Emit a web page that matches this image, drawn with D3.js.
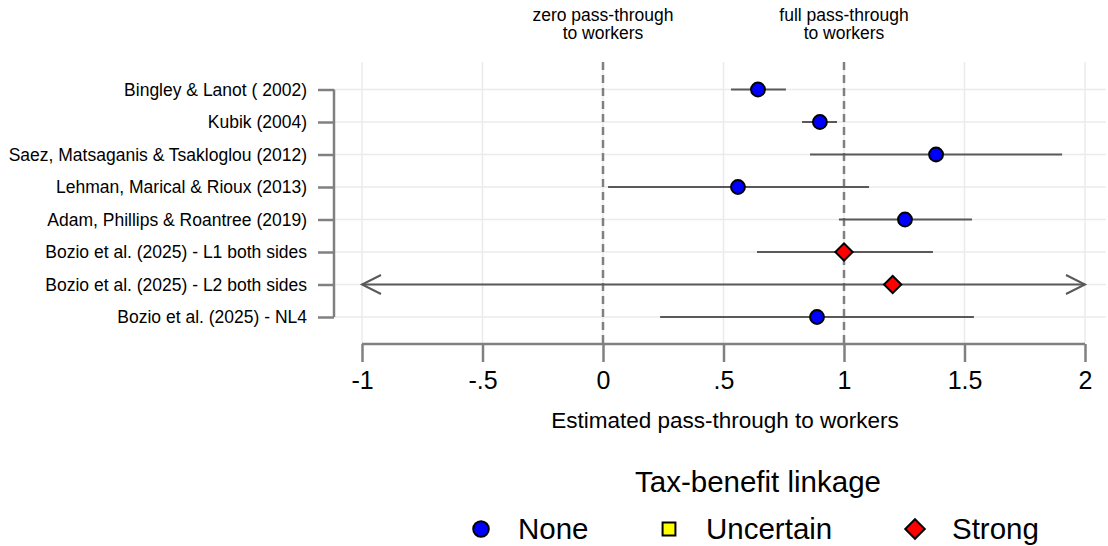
<!DOCTYPE html>
<html>
<head>
<meta charset="utf-8">
<script src="https://cdn.jsdelivr.net/npm/d3@7"></script>
<style>
  body { margin: 0; background: #fff; }
  text { font-family: Arial, "Liberation Sans", sans-serif; fill: #000; }
</style>
</head>
<body>
<script>
//chart data
var studies = [
    "Bingley & Lanot ( 2002)",
    "Kubik (2004)",
    "Saez, Matsaganis & Tsakloglou (2012)",
    "Lehman, Marical & Rioux (2013)",
    "Adam, Phillips & Roantree (2019)",
    "Bozio et al. (2025) - L1 both sides",
    "Bozio et al. (2025) - L2 both sides",
    "Bozio et al. (2025) - NL4"
];
var estimates = [0.643, 0.900, 1.382, 0.560, 1.253, 1.000, 1.202, 0.888];
var lower = [0.531, 0.826, 0.859, 0.021, 0.979, 0.639, -1, 0.237];
var upper = [0.759, 0.971, 1.905, 1.104, 1.531, 1.369, 2, 1.539];
var linkage = ["None", "None", "None", "None", "None", "Strong", "Strong", "None"];
var censored = [false, false, false, false, false, false, true, false];
var xTicks = [-1, -0.5, 0, 0.5, 1, 1.5, 2];
var refLines = [0, 1];
var refLabels = [["zero pass-through", "to workers"], ["full pass-through", "to workers"]];
var legendCats = ["None", "Uncertain", "Strong"];

window.onload = function () {
    var w = 1108, h = 546;

    var svg = d3.select("body").append("svg")
        .attr("width", w)
        .attr("height", h);

    var x = d3.scaleLinear().domain([-1, 2]).range([362, 1085]);
    var y = d3.scalePoint().domain(studies).range([89.5, 317]);

    var rows = studies.map(function (s, i) {
        return { study: s, est: estimates[i], lo: lower[i], hi: upper[i], link: linkage[i], cens: censored[i] };
    });

    var gridTop = 62, axisY = 344, yAxisX = 334;

    //grid lines
    svg.selectAll(".vgrid").data(xTicks).enter().append("line")
        .attr("x1", function (d) { return x(d); })
        .attr("x2", function (d) { return x(d); })
        .attr("y1", gridTop).attr("y2", axisY)
        .style("stroke", "#ebebeb").style("stroke-width", 1.5);

    svg.selectAll(".hgrid").data(studies).enter().append("line")
        .attr("x1", yAxisX).attr("x2", 1106)
        .attr("y1", function (d) { return y(d); })
        .attr("y2", function (d) { return y(d); })
        .style("stroke", "#ebebeb").style("stroke-width", 1.5);

    //reference lines
    svg.selectAll(".ref").data(refLines).enter().append("line")
        .attr("x1", function (d) { return x(d); })
        .attr("x2", function (d) { return x(d); })
        .attr("y1", gridTop).attr("y2", axisY)
        .style("stroke", "#808080").style("stroke-width", 2.5)
        .style("stroke-dasharray", "8,5");

    //reference labels, two lines each
    refLines.forEach(function (d, i) {
        refLabels[i].forEach(function (line, j) {
            svg.append("text")
                .attr("text-anchor", "middle")
                .attr("x", x(d))
                .attr("y", 21 + j * 18)
                .style("font-size", "17.5px")
                .text(line);
        });
    });

    //confidence intervals
    svg.selectAll(".ci").data(rows).enter().append("line")
        .attr("x1", function (d) { return x(d.lo); })
        .attr("x2", function (d) { return x(d.hi); })
        .attr("y1", function (d) { return y(d.study); })
        .attr("y2", function (d) { return y(d.study); })
        .style("stroke", "#595959").style("stroke-width", 2);

    //arrow heads for censored intervals
    rows.filter(function (d) { return d.cens; }).forEach(function (d) {
        var yy = y(d.study);
        [[x(d.lo), 1], [x(d.hi), -1]].forEach(function (p) {
            svg.append("path")
                .attr("d", "M" + (p[0] + p[1] * 19) + "," + (yy - 9.5) + "L" + p[0] + "," + yy +
                    "L" + (p[0] + p[1] * 19) + "," + (yy + 9.5))
                .style("fill", "none").style("stroke", "#595959").style("stroke-width", 2);
        });
    });

    //markers
    var fill = { None: "#0000ff", Uncertain: "#ffff00", Strong: "#ff0000" };
    var rot = { None: 0, Uncertain: 0, Strong: 45 };
    var shape = { None: d3.symbolCircle, Uncertain: d3.symbolSquare, Strong: d3.symbolSquare };
    var ptSize = { None: 150, Uncertain: 140, Strong: 150 };
    var legSize = { None: 190, Uncertain: 165, Strong: 190 };

    svg.selectAll(".pt").data(rows).enter().append("path")
        .attr("d", function (d) { return d3.symbol().type(shape[d.link]).size(ptSize[d.link])(); })
        .attr("transform", function (d) {
            return "translate(" + x(d.est) + "," + y(d.study) + ") rotate(" + rot[d.link] + ")";
        })
        .style("fill", function (d) { return fill[d.link]; })
        .style("stroke", "#000").style("stroke-width", 2);

    //y axis
    var yAxis = d3.axisLeft(y).tickSize(16).tickPadding(11);
    var gy = svg.append("g")
        .attr("transform", "translate(" + yAxisX + ",0)")
        .call(yAxis);
    gy.select(".domain").attr("d", "M0," + y(studies[0]) + "V" + y(studies[studies.length - 1]));
    gy.selectAll(".domain, .tick line").style("stroke", "#808080").style("stroke-width", 2.5);
    gy.selectAll(".tick text").style("font-size", "17.5px").style("fill", "#000")
        .style("font-family", "Arial, 'Liberation Sans', sans-serif");

    //x axis
    var xAxis = d3.axisBottom(x).tickValues(xTicks).tickSize(18).tickPadding(9)
        .tickFormat(function (d) {
            return String(d).replace("0.", ".");
        });
    var gx = svg.append("g")
        .attr("transform", "translate(0," + axisY + ")")
        .call(xAxis);
    gx.select(".domain").attr("d", "M" + x(-1) + ",0H" + x(2));
    gx.selectAll(".domain, .tick line").style("stroke", "#808080").style("stroke-width", 2.5);
    gx.selectAll(".tick text").style("font-size", "25px").style("fill", "#000")
        .style("font-family", "Arial, 'Liberation Sans', sans-serif");

    //x axis title
    svg.append("text")
        .attr("text-anchor", "middle")
        .attr("x", 725)
        .attr("y", 428)
        .style("font-size", "22.5px")
        .text("Estimated pass-through to workers");

    //legend
    svg.append("text")
        .attr("text-anchor", "middle")
        .attr("x", 758)
        .attr("y", 492)
        .style("font-size", "29.5px")
        .text("Tax-benefit linkage");

    var legX = [481, 669, 915];
    var leg = svg.selectAll(".leg").data(legendCats).enter().append("g")
        .attr("transform", function (d, i) { return "translate(" + legX[i] + ",529)"; });
    leg.append("path")
        .attr("d", function (d) { return d3.symbol().type(shape[d]).size(legSize[d])(); })
        .attr("transform", function (d) { return "rotate(" + rot[d] + ")"; })
        .style("fill", function (d) { return fill[d]; })
        .style("stroke", "#000").style("stroke-width", 2);
    leg.append("text")
        .attr("x", 37)
        .attr("y", 10)
        .style("font-size", "29.5px")
        .text(function (d) { return d; });
};
</script>
</body>
</html>
